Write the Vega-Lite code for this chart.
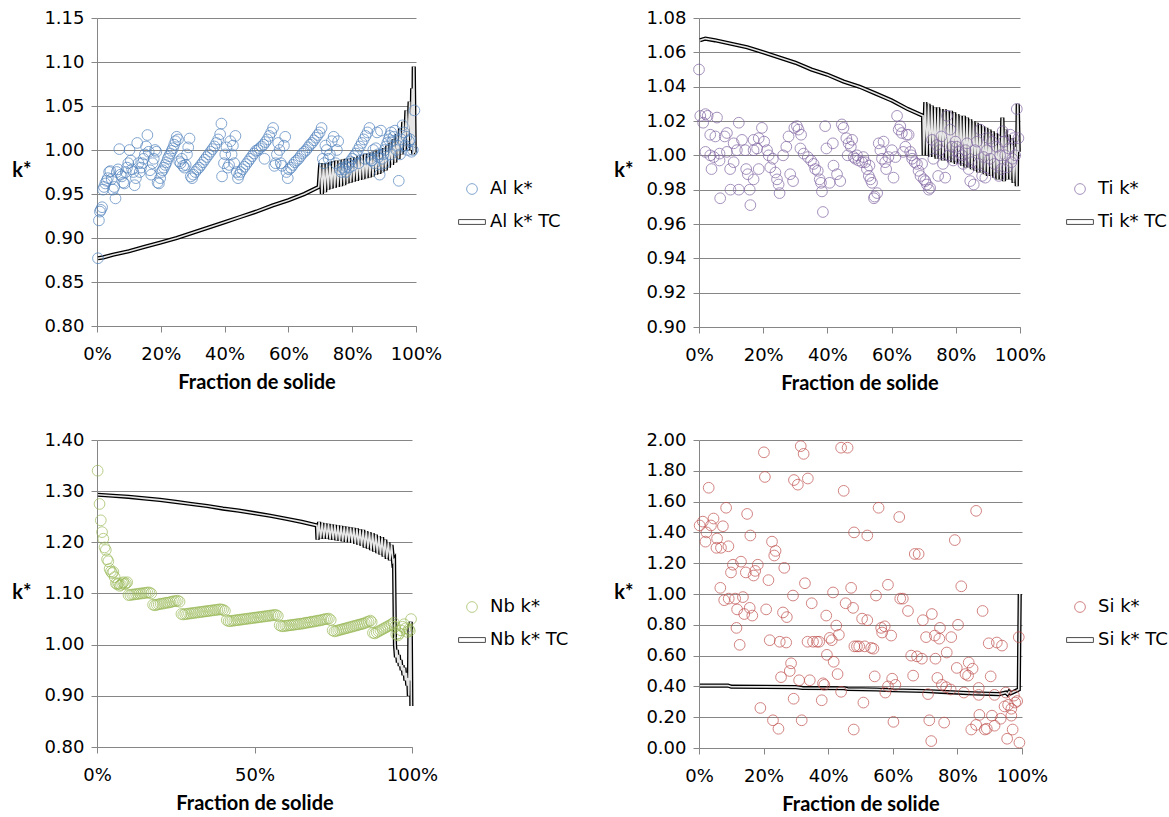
{
"$schema": "https://vega.github.io/schema/vega-lite/v6.json",
"background": "white",
"padding": {"left": 11, "top": 9, "right": 5, "bottom": 5},
"spacing": 38,
"config": {
  "font": "Lato",
  "view": {"stroke": null},
  "axis": {"labelFont": "DejaVu Sans", "labelFontSize": 18, "labelColor": "#000000", "titleFont": "Lato", "titleFontSize": 20, "titleFontWeight": "bold", "titleColor": "#000000", "domainColor": "#868686", "tickColor": "#868686", "gridColor": "#868686", "gridWidth": 1, "domainWidth": 1, "tickWidth": 1},
  "axisX": {"grid": false, "tickSize": 6, "labelPadding": 13, "titlePadding": 9, "labelFlush": false, "format": ".0%"},
  "axisY": {"grid": true, "tickSize": 6, "labelPadding": 7, "titleAngle": 0, "titleAlign": "right", "titleBaseline": "middle", "titleX": -66, "titleY": 152, "format": ".2f"},
  "legend": {"orient": "none", "title": null, "labelFont": "DejaVu Sans", "labelFontSize": 18, "labelColor": "#000000", "symbolSize": 115, "symbolStrokeWidth": 1, "rowPadding": 15, "labelOffset": 9, "padding": 0}
},
"datasets": {
"al_pts": [
{"x":0.003,"y":0.877},{"x":0.006,"y":0.92},{"x":0.009,"y":0.93},{"x":0.012,"y":0.932},{"x":0.016,"y":0.935},{"x":0.019,"y":0.955},{"x":0.022,"y":0.958},{"x":0.026,"y":0.962},{"x":0.03,"y":0.965},{"x":0.034,"y":0.968},{"x":0.038,"y":0.975},{"x":0.042,"y":0.976},{"x":0.046,"y":0.967},{"x":0.05,"y":0.955},{"x":0.054,"y":0.958},{"x":0.058,"y":0.945},{"x":0.062,"y":0.975},{"x":0.066,"y":0.978},{"x":0.07,"y":1.001},{"x":0.074,"y":0.972},{"x":0.078,"y":0.97},{"x":0.082,"y":0.963},{"x":0.086,"y":0.962},{"x":0.09,"y":0.975},{"x":0.094,"y":0.98},{"x":0.098,"y":0.985},{"x":0.102,"y":1.0},{"x":0.106,"y":0.988},{"x":0.11,"y":0.978},{"x":0.114,"y":0.975},{"x":0.118,"y":0.96},{"x":0.122,"y":0.968},{"x":0.126,"y":1.008},{"x":0.13,"y":0.985},{"x":0.134,"y":0.975},{"x":0.138,"y":0.98},{"x":0.142,"y":0.985},{"x":0.146,"y":0.99},{"x":0.15,"y":0.995},{"x":0.154,"y":1.004},{"x":0.158,"y":1.017},{"x":0.162,"y":0.998},{"x":0.166,"y":0.977},{"x":0.17,"y":0.972},{"x":0.174,"y":0.985},{"x":0.178,"y":0.99},{"x":0.182,"y":1.0},{"x":0.186,"y":0.998},{"x":0.19,"y":0.963},{"x":0.194,"y":0.962},{"x":0.198,"y":0.968},
{"x":0.202,"y":0.975},{"x":0.206,"y":0.977},{"x":0.21,"y":0.98},{"x":0.214,"y":0.983},{"x":0.218,"y":0.986},{"x":0.222,"y":0.99},{"x":0.226,"y":0.993},{"x":0.23,"y":0.996},{"x":0.234,"y":0.999},{"x":0.238,"y":1.002},{"x":0.242,"y":1.006},{"x":0.246,"y":1.01},{"x":0.25,"y":1.015},{"x":0.254,"y":1.012},
{"x":0.258,"y":0.987},{"x":0.262,"y":0.985},{"x":0.266,"y":0.99},{"x":0.27,"y":0.982},{"x":0.274,"y":0.98},{"x":0.278,"y":0.983},{"x":0.282,"y":0.995},{"x":0.286,"y":1.003},{"x":0.29,"y":1.013},{"x":0.294,"y":0.97},{"x":0.298,"y":0.968},
{"x":0.302,"y":0.972},{"x":0.308,"y":0.975},{"x":0.314,"y":0.978},{"x":0.32,"y":0.98},{"x":0.326,"y":0.983},{"x":0.332,"y":0.986},{"x":0.338,"y":0.989},{"x":0.344,"y":0.992},{"x":0.35,"y":0.995},{"x":0.356,"y":0.998},{"x":0.362,"y":1.001},{"x":0.368,"y":1.004},{"x":0.374,"y":1.008},{"x":0.38,"y":1.012},{"x":0.386,"y":1.018},{"x":0.39,"y":1.03},{"x":0.392,"y":0.97},
{"x":0.398,"y":0.985},{"x":0.402,"y":0.995},{"x":0.406,"y":1.003},{"x":0.41,"y":0.98},{"x":0.414,"y":0.983},{"x":0.418,"y":1.01},{"x":0.422,"y":0.995},{"x":0.426,"y":1.005},{"x":0.43,"y":0.985},{"x":0.434,"y":1.016},{"x":0.438,"y":0.975},{"x":0.442,"y":0.968},{"x":0.446,"y":0.972},
{"x":0.45,"y":0.975},{"x":0.456,"y":0.978},{"x":0.462,"y":0.981},{"x":0.468,"y":0.984},{"x":0.474,"y":0.987},{"x":0.48,"y":0.99},{"x":0.486,"y":0.993},{"x":0.492,"y":0.996},{"x":0.498,"y":0.999},{"x":0.504,"y":1.0},{"x":0.51,"y":1.002},{"x":0.516,"y":1.004},{"x":0.522,"y":1.006},{"x":0.528,"y":1.009},{"x":0.534,"y":1.012},{"x":0.54,"y":1.016},{"x":0.546,"y":1.02},{"x":0.552,"y":1.025},{"x":0.525,"y":0.99},
{"x":0.556,"y":0.982},{"x":0.56,"y":0.985},{"x":0.564,"y":0.995},{"x":0.568,"y":1.008},{"x":0.572,"y":1.0},{"x":0.576,"y":0.985},{"x":0.58,"y":0.982},{"x":0.586,"y":1.005},{"x":0.59,"y":1.015},{"x":0.594,"y":0.975},{"x":0.598,"y":0.968},{"x":0.602,"y":0.978},
{"x":0.608,"y":0.98},{"x":0.614,"y":0.983},{"x":0.62,"y":0.986},{"x":0.626,"y":0.988},{"x":0.632,"y":0.99},{"x":0.638,"y":0.993},{"x":0.644,"y":0.996},{"x":0.65,"y":0.998},{"x":0.656,"y":1.0},{"x":0.662,"y":1.003},{"x":0.668,"y":1.006},{"x":0.674,"y":1.008},{"x":0.68,"y":1.011},{"x":0.686,"y":1.014},{"x":0.692,"y":1.017},{"x":0.698,"y":1.02},{"x":0.704,"y":1.025},
{"x":0.708,"y":0.99},{"x":0.712,"y":0.985},{"x":0.716,"y":1.005},{"x":0.72,"y":1.0},{"x":0.726,"y":0.99},{"x":0.73,"y":0.995},{"x":0.736,"y":1.01},{"x":0.742,"y":1.015},{"x":0.748,"y":0.985},{"x":0.752,"y":1.0},{"x":0.756,"y":1.01},{"x":0.762,"y":0.978},{"x":0.766,"y":0.975},{"x":0.77,"y":0.98},
{"x":0.776,"y":0.978},{"x":0.782,"y":0.981},{"x":0.788,"y":0.984},{"x":0.794,"y":0.987},{"x":0.8,"y":0.99},{"x":0.806,"y":0.993},{"x":0.812,"y":0.996},{"x":0.818,"y":1.0},{"x":0.824,"y":1.004},{"x":0.83,"y":1.008},{"x":0.836,"y":1.012},{"x":0.842,"y":1.016},{"x":0.848,"y":1.02},{"x":0.854,"y":1.025},
{"x":0.78,"y":0.975},{"x":0.79,"y":0.98},{"x":0.80,"y":0.982},{"x":0.82,"y":0.985},{"x":0.84,"y":0.99},{"x":0.86,"y":0.988},{"x":0.88,"y":0.995},{"x":0.9,"y":0.985},{"x":0.92,"y":0.995},
{"x":0.858,"y":0.99},{"x":0.862,"y":0.988},{"x":0.866,"y":1.0},{"x":0.87,"y":0.985},{"x":0.874,"y":1.002},{"x":0.878,"y":1.02},{"x":0.882,"y":0.992},{"x":0.886,"y":0.972},{"x":0.89,"y":1.022},{"x":0.894,"y":0.99},{"x":0.898,"y":0.995},{"x":0.902,"y":1.0},{"x":0.906,"y":1.004},{"x":0.91,"y":1.008},{"x":0.914,"y":1.012},{"x":0.918,"y":1.016},{"x":0.922,"y":1.02},{"x":0.926,"y":1.01},{"x":0.93,"y":1.015},{"x":0.934,"y":1.022},{"x":0.938,"y":1.0},{"x":0.942,"y":1.005},{"x":0.946,"y":0.965},{"x":0.95,"y":0.995},{"x":0.954,"y":1.012},{"x":0.958,"y":1.028},{"x":0.962,"y":1.02},{"x":0.966,"y":1.005},{"x":0.97,"y":1.015},{"x":0.974,"y":1.0},{"x":0.978,"y":1.01},{"x":0.982,"y":1.012},{"x":0.986,"y":0.998},{"x":0.99,"y":1.0},{"x":0.995,"y":1.045}
],
"al_tc": [
{"x":0.003,"y":0.877},{"x":0.02,"y":0.878},{"x":0.05,"y":0.881},{"x":0.1,"y":0.885},{"x":0.15,"y":0.89},{"x":0.2,"y":0.895},{"x":0.25,"y":0.9},{"x":0.3,"y":0.906},{"x":0.35,"y":0.912},{"x":0.4,"y":0.918},{"x":0.45,"y":0.924},{"x":0.5,"y":0.93},{"x":0.55,"y":0.937},{"x":0.6,"y":0.943},{"x":0.65,"y":0.95},{"x":0.695,"y":0.958},
{"x":0.7,"y":0.985},{"x":0.705,"y":0.95},{"x":0.71,"y":0.985},{"x":0.715,"y":0.952},{"x":0.72,"y":0.985},{"x":0.725,"y":0.955},{"x":0.73,"y":0.986},{"x":0.735,"y":0.956},{"x":0.74,"y":0.987},{"x":0.745,"y":0.957},{"x":0.75,"y":0.988},{"x":0.755,"y":0.958},{"x":0.76,"y":0.988},{"x":0.765,"y":0.959},{"x":0.77,"y":0.989},{"x":0.775,"y":0.96},{"x":0.78,"y":0.99},{"x":0.785,"y":0.962},{"x":0.79,"y":0.99},{"x":0.795,"y":0.963},{"x":0.8,"y":0.991},{"x":0.805,"y":0.964},{"x":0.81,"y":0.992},{"x":0.815,"y":0.965},{"x":0.82,"y":0.993},{"x":0.825,"y":0.966},{"x":0.83,"y":0.994},{"x":0.835,"y":0.967},{"x":0.84,"y":0.995},{"x":0.845,"y":0.968},{"x":0.85,"y":0.996},{"x":0.855,"y":0.969},{"x":0.86,"y":0.997},{"x":0.865,"y":0.97},{"x":0.87,"y":0.998},{"x":0.875,"y":0.972},{"x":0.88,"y":0.999},{"x":0.885,"y":0.973},{"x":0.89,"y":1.0},{"x":0.895,"y":0.975},{"x":0.9,"y":1.002},{"x":0.905,"y":0.977},{"x":0.91,"y":1.005},{"x":0.915,"y":0.98},{"x":0.92,"y":1.008},{"x":0.925,"y":0.983},{"x":0.93,"y":1.012},{"x":0.935,"y":0.986},{"x":0.94,"y":1.018},{"x":0.945,"y":0.99},{"x":0.95,"y":1.025},{"x":0.955,"y":0.995},{"x":0.96,"y":1.032},{"x":0.965,"y":1.0},{"x":0.97,"y":1.045},{"x":0.975,"y":1.005},{"x":0.98,"y":1.055},{"x":0.985,"y":1.0},{"x":0.988,"y":1.07},{"x":0.991,"y":0.995},{"x":0.993,"y":1.095},{"x":0.996,"y":0.997}
],
"ti_pts": [
{"x":0.0,"y":1.05},{"x":0.004,"y":1.023},{"x":0.02,"y":1.024},{"x":0.027,"y":1.023},{"x":0.013,"y":1.019},{"x":0.056,"y":1.022},{"x":0.035,"y":1.012},{"x":0.051,"y":1.011},{"x":0.087,"y":1.013},{"x":0.08,"y":1.011},{"x":0.124,"y":1.019},{"x":0.02,"y":1.002},{"x":0.035,"y":1.0},{"x":0.046,"y":0.999},{"x":0.064,"y":1.001},{"x":0.087,"y":1.002},{"x":0.108,"y":1.007},{"x":0.118,"y":1.003},{"x":0.039,"y":0.992},{"x":0.064,"y":0.997},{"x":0.097,"y":0.992},{"x":0.108,"y":0.996},{"x":0.098,"y":0.98},{"x":0.124,"y":0.98},{"x":0.158,"y":0.98},{"x":0.066,"y":0.975},{"x":0.16,"y":0.971},{"x":0.134,"y":1.009},{"x":0.17,"y":1.009},{"x":0.196,"y":1.016},{"x":0.186,"y":1.01},{"x":0.203,"y":1.008},{"x":0.181,"y":1.004},{"x":0.212,"y":1.003},{"x":0.217,"y":1.0},{"x":0.23,"y":0.998},{"x":0.144,"y":1.003},{"x":0.17,"y":1.003},{"x":0.147,"y":0.992},{"x":0.152,"y":0.989},{"x":0.17,"y":0.986},{"x":0.186,"y":0.992},{"x":0.222,"y":0.993},{"x":0.238,"y":0.99},{"x":0.243,"y":0.986},{"x":0.248,"y":0.983},{"x":0.251,"y":0.978},{"x":0.284,"y":0.989},{"x":0.293,"y":0.985},{"x":0.262,"y":1.0},{"x":0.272,"y":1.005},{"x":0.279,"y":1.011},{"x":0.297,"y":1.016},{"x":0.305,"y":1.017},{"x":0.31,"y":1.015},{"x":0.318,"y":1.012},{"x":0.316,"y":1.004},{"x":0.326,"y":1.001},{"x":0.339,"y":0.999},{"x":0.349,"y":0.997},{"x":0.357,"y":0.995},{"x":0.362,"y":0.992},{"x":0.37,"y":0.991},{"x":0.376,"y":0.986},{"x":0.38,"y":0.984},{"x":0.383,"y":0.979},{"x":0.386,"y":0.967},{"x":0.393,"y":1.017},{"x":0.397,"y":1.004},{"x":0.407,"y":0.984},{"x":0.417,"y":1.007},{"x":0.43,"y":0.989},{"x":0.419,"y":0.994},{"x":0.44,"y":0.985},{"x":0.445,"y":1.018},{"x":0.45,"y":1.016},{"x":0.459,"y":1.01},{"x":0.473,"y":1.005},{"x":0.463,"y":1.0},{"x":0.482,"y":0.999},{"x":0.466,"y":1.007},
{"x":0.477,"y":1.009},{"x":0.487,"y":0.998},{"x":0.497,"y":0.997},{"x":0.508,"y":0.996},{"x":0.518,"y":0.996},{"x":0.523,"y":0.992},{"x":0.529,"y":0.988},{"x":0.534,"y":0.986},{"x":0.539,"y":0.984},{"x":0.547,"y":0.976},{"x":0.56,"y":1.007},{"x":0.575,"y":1.008},{"x":0.565,"y":1.003},{"x":0.58,"y":0.996},{"x":0.583,"y":0.992},{"x":0.606,"y":0.987},{"x":0.601,"y":1.003},{"x":0.617,"y":1.023},{"x":0.627,"y":1.017},{"x":0.632,"y":1.013},{"x":0.653,"y":1.012},{"x":0.643,"y":1.005},{"x":0.658,"y":1.002},{"x":0.664,"y":0.998},{"x":0.679,"y":0.995},{"x":0.684,"y":0.991},{"x":0.69,"y":0.988},{"x":0.7,"y":0.986},{"x":0.71,"y":0.983},{"x":0.716,"y":0.98},{"x":0.745,"y":0.988},{"x":0.767,"y":0.987},{"x":0.726,"y":1.009},{"x":0.741,"y":1.006},{"x":0.755,"y":1.011},{"x":0.773,"y":1.023},{"x":0.783,"y":1.015},{"x":0.788,"y":1.005},{"x":0.799,"y":1.008},{"x":0.809,"y":1.002},{"x":0.819,"y":1.0},{"x":0.835,"y":1.007},{"x":0.85,"y":0.996},{"x":0.856,"y":0.983},{"x":0.866,"y":1.008},{"x":0.876,"y":1.015},{"x":0.887,"y":0.999},{"x":0.897,"y":1.003},{"x":0.902,"y":1.01},{"x":0.913,"y":1.008},{"x":0.928,"y":1.005},{"x":0.934,"y":0.988},{"x":0.946,"y":1.014},{"x":0.954,"y":1.0},{"x":0.965,"y":1.004},{"x":0.973,"y":0.996},{"x":0.98,"y":1.01},{"x":0.99,"y":1.027},{"x":0.84,"y":0.992},{"x":0.882,"y":0.988},
{"x":0.72,"y":0.981},{"x":0.73,"y":0.998},{"x":0.75,"y":1.003},{"x":0.76,"y":0.995},{"x":0.778,"y":1.0},{"x":0.792,"y":0.997},{"x":0.803,"y":1.005},{"x":0.813,"y":0.998},{"x":0.823,"y":0.995},{"x":0.83,"y":1.003},{"x":0.845,"y":0.985},{"x":0.86,"y":1.003},{"x":0.871,"y":0.995},{"x":0.892,"y":0.987},{"x":0.907,"y":0.998},{"x":0.92,"y":0.995},{"x":0.938,"y":1.0},{"x":0.942,"y":0.992},{"x":0.95,"y":1.008},{"x":0.96,"y":0.993},{"x":0.97,"y":1.012},{"x":0.985,"y":1.0},{"x":0.995,"y":1.01},{"x":0.976,"y":0.998},
{"x":0.492,"y":1.0},{"x":0.512,"y":0.999},{"x":0.531,"y":0.994},{"x":0.545,"y":0.975},{"x":0.555,"y":0.978},{"x":0.57,"y":0.998},{"x":0.59,"y":0.999},{"x":0.612,"y":0.999},{"x":0.622,"y":1.015},{"x":0.636,"y":1.002},{"x":0.647,"y":1.012},{"x":0.662,"y":1.0},{"x":0.672,"y":0.996},{"x":0.695,"y":0.995},{"x":0.705,"y":0.985}
],
"ti_tc": [
{"x":0.003,"y":1.067},{"x":0.02,"y":1.068},{"x":0.05,"y":1.067},{"x":0.1,"y":1.065},{"x":0.15,"y":1.063},{"x":0.2,"y":1.06},{"x":0.25,"y":1.057},{"x":0.3,"y":1.054},{"x":0.35,"y":1.05},{"x":0.4,"y":1.047},{"x":0.45,"y":1.043},{"x":0.5,"y":1.04},{"x":0.55,"y":1.036},{"x":0.6,"y":1.032},{"x":0.65,"y":1.027},{"x":0.698,"y":1.023},
{"x":0.7,"y":1.0},{"x":0.705,"y":1.031},{"x":0.71,"y":1.0},{"x":0.715,"y":1.03},{"x":0.72,"y":0.999},{"x":0.725,"y":1.029},{"x":0.73,"y":0.999},{"x":0.735,"y":1.028},{"x":0.74,"y":0.998},{"x":0.745,"y":1.028},{"x":0.75,"y":0.998},{"x":0.755,"y":1.027},{"x":0.76,"y":0.997},{"x":0.765,"y":1.027},{"x":0.77,"y":0.997},{"x":0.775,"y":1.026},{"x":0.78,"y":0.996},{"x":0.785,"y":1.026},{"x":0.79,"y":0.996},{"x":0.795,"y":1.025},{"x":0.8,"y":0.995},{"x":0.805,"y":1.024},{"x":0.81,"y":0.995},{"x":0.815,"y":1.023},{"x":0.82,"y":0.994},{"x":0.825,"y":1.023},{"x":0.83,"y":0.993},{"x":0.835,"y":1.022},{"x":0.84,"y":0.993},{"x":0.845,"y":1.021},{"x":0.85,"y":0.992},{"x":0.855,"y":1.02},{"x":0.86,"y":0.991},{"x":0.865,"y":1.019},{"x":0.87,"y":0.99},{"x":0.875,"y":1.018},{"x":0.88,"y":0.99},{"x":0.885,"y":1.017},{"x":0.89,"y":0.989},{"x":0.895,"y":1.016},{"x":0.9,"y":0.988},{"x":0.905,"y":1.015},{"x":0.91,"y":0.988},{"x":0.915,"y":1.014},{"x":0.92,"y":0.987},{"x":0.925,"y":1.013},{"x":0.93,"y":0.986},{"x":0.935,"y":1.012},{"x":0.94,"y":0.986},{"x":0.945,"y":1.022},{"x":0.95,"y":0.985},{"x":0.955,"y":1.015},{"x":0.96,"y":0.986},{"x":0.965,"y":1.012},{"x":0.97,"y":0.986},{"x":0.975,"y":1.01},{"x":0.98,"y":0.984},{"x":0.985,"y":1.005},{"x":0.99,"y":0.982},{"x":0.993,"y":1.03},{"x":0.996,"y":1.002}
],
"nb_pts": [
{"x":0.002,"y":1.34},{"x":0.008,"y":1.275},{"x":0.012,"y":1.243},{"x":0.016,"y":1.22},{"x":0.02,"y":1.207},{"x":0.024,"y":1.19},{"x":0.028,"y":1.185},{"x":0.032,"y":1.167},{"x":0.036,"y":1.163},{"x":0.04,"y":1.148},{"x":0.044,"y":1.143},{"x":0.048,"y":1.14},{"x":0.052,"y":1.142},{"x":0.056,"y":1.132},{"x":0.06,"y":1.12},{"x":0.064,"y":1.118},{"x":0.068,"y":1.12},{"x":0.072,"y":1.115},{"x":0.076,"y":1.117},{"x":0.08,"y":1.12},{"x":0.084,"y":1.122},{"x":0.088,"y":1.118},{"x":0.092,"y":1.12},{"x":0.096,"y":1.122},
{"x":0.1,"y":1.097},{"x":0.106,"y":1.097},{"x":0.112,"y":1.098},{"x":0.118,"y":1.098},{"x":0.124,"y":1.099},{"x":0.13,"y":1.099},{"x":0.136,"y":1.1},{"x":0.142,"y":1.1},{"x":0.148,"y":1.101},{"x":0.154,"y":1.101},{"x":0.16,"y":1.102},{"x":0.166,"y":1.102},{"x":0.172,"y":1.1},
{"x":0.178,"y":1.078},{"x":0.184,"y":1.077},{"x":0.19,"y":1.078},{"x":0.196,"y":1.079},{"x":0.202,"y":1.08},{"x":0.208,"y":1.08},{"x":0.214,"y":1.081},{"x":0.22,"y":1.082},{"x":0.226,"y":1.082},{"x":0.232,"y":1.083},{"x":0.238,"y":1.084},{"x":0.244,"y":1.085},{"x":0.25,"y":1.085},{"x":0.256,"y":1.086},{"x":0.262,"y":1.084},
{"x":0.268,"y":1.06},{"x":0.274,"y":1.059},{"x":0.28,"y":1.06},{"x":0.286,"y":1.06},{"x":0.292,"y":1.061},{"x":0.298,"y":1.061},{"x":0.304,"y":1.062},{"x":0.31,"y":1.062},{"x":0.316,"y":1.063},{"x":0.322,"y":1.063},{"x":0.328,"y":1.064},{"x":0.334,"y":1.064},{"x":0.34,"y":1.065},{"x":0.346,"y":1.065},{"x":0.352,"y":1.066},{"x":0.358,"y":1.066},{"x":0.364,"y":1.067},{"x":0.37,"y":1.067},{"x":0.376,"y":1.068},{"x":0.382,"y":1.068},{"x":0.388,"y":1.069},{"x":0.394,"y":1.069},{"x":0.4,"y":1.068},{"x":0.406,"y":1.066},
{"x":0.412,"y":1.048},{"x":0.418,"y":1.046},{"x":0.424,"y":1.046},{"x":0.43,"y":1.047},{"x":0.436,"y":1.047},{"x":0.442,"y":1.048},{"x":0.448,"y":1.048},{"x":0.454,"y":1.049},{"x":0.46,"y":1.049},{"x":0.466,"y":1.05},{"x":0.472,"y":1.05},{"x":0.478,"y":1.051},{"x":0.484,"y":1.051},{"x":0.49,"y":1.052},{"x":0.496,"y":1.052},{"x":0.502,"y":1.053},{"x":0.508,"y":1.053},{"x":0.514,"y":1.054},{"x":0.52,"y":1.054},{"x":0.526,"y":1.055},{"x":0.532,"y":1.055},{"x":0.538,"y":1.056},{"x":0.544,"y":1.056},{"x":0.55,"y":1.057},{"x":0.556,"y":1.057},{"x":0.562,"y":1.058},{"x":0.568,"y":1.058},{"x":0.574,"y":1.056},
{"x":0.58,"y":1.038},{"x":0.586,"y":1.036},{"x":0.592,"y":1.036},{"x":0.598,"y":1.037},{"x":0.604,"y":1.037},{"x":0.61,"y":1.038},{"x":0.616,"y":1.038},{"x":0.622,"y":1.039},{"x":0.628,"y":1.039},{"x":0.634,"y":1.04},{"x":0.64,"y":1.04},{"x":0.646,"y":1.041},{"x":0.652,"y":1.041},{"x":0.658,"y":1.042},{"x":0.664,"y":1.043},{"x":0.67,"y":1.043},{"x":0.676,"y":1.044},{"x":0.682,"y":1.045},{"x":0.688,"y":1.045},{"x":0.694,"y":1.046},{"x":0.7,"y":1.047},{"x":0.706,"y":1.047},{"x":0.712,"y":1.048},{"x":0.718,"y":1.049},{"x":0.724,"y":1.05},{"x":0.73,"y":1.05},{"x":0.736,"y":1.051},{"x":0.742,"y":1.048},
{"x":0.748,"y":1.028},{"x":0.754,"y":1.026},{"x":0.76,"y":1.027},{"x":0.766,"y":1.028},{"x":0.772,"y":1.029},{"x":0.778,"y":1.03},{"x":0.784,"y":1.031},{"x":0.79,"y":1.032},{"x":0.796,"y":1.033},{"x":0.802,"y":1.034},{"x":0.808,"y":1.035},{"x":0.814,"y":1.036},{"x":0.82,"y":1.037},{"x":0.826,"y":1.038},{"x":0.832,"y":1.039},{"x":0.838,"y":1.04},{"x":0.844,"y":1.041},{"x":0.85,"y":1.042},{"x":0.856,"y":1.044},{"x":0.862,"y":1.045},{"x":0.868,"y":1.047},{"x":0.872,"y":1.044},
{"x":0.876,"y":1.023},{"x":0.882,"y":1.022},{"x":0.888,"y":1.024},{"x":0.894,"y":1.026},{"x":0.9,"y":1.028},{"x":0.906,"y":1.03},{"x":0.912,"y":1.032},{"x":0.918,"y":1.034},{"x":0.924,"y":1.036},{"x":0.93,"y":1.038},{"x":0.936,"y":1.04},{"x":0.942,"y":1.043},{"x":0.946,"y":1.035},
{"x":0.95,"y":1.02},{"x":0.955,"y":1.018},{"x":0.96,"y":1.022},{"x":0.965,"y":1.028},{"x":0.97,"y":1.035},{"x":0.975,"y":1.04},{"x":0.98,"y":1.032},{"x":0.985,"y":1.025},{"x":0.99,"y":1.03},{"x":0.993,"y":1.027},{"x":0.997,"y":1.05}
],
"nb_tc": [
{"x":0.003,"y":1.293},{"x":0.05,"y":1.291},{"x":0.1,"y":1.289},{"x":0.15,"y":1.286},{"x":0.2,"y":1.283},{"x":0.25,"y":1.279},{"x":0.3,"y":1.275},{"x":0.35,"y":1.271},{"x":0.4,"y":1.266},{"x":0.45,"y":1.262},{"x":0.5,"y":1.257},{"x":0.55,"y":1.252},{"x":0.6,"y":1.246},{"x":0.65,"y":1.24},{"x":0.698,"y":1.233},
{"x":0.7,"y":1.205},{"x":0.705,"y":1.24},{"x":0.71,"y":1.207},{"x":0.715,"y":1.238},{"x":0.72,"y":1.208},{"x":0.725,"y":1.237},{"x":0.73,"y":1.207},{"x":0.735,"y":1.236},{"x":0.74,"y":1.206},{"x":0.745,"y":1.235},{"x":0.75,"y":1.205},{"x":0.755,"y":1.234},{"x":0.76,"y":1.204},{"x":0.765,"y":1.233},{"x":0.77,"y":1.203},{"x":0.775,"y":1.232},{"x":0.78,"y":1.202},{"x":0.785,"y":1.231},{"x":0.79,"y":1.201},{"x":0.795,"y":1.23},{"x":0.8,"y":1.2},{"x":0.805,"y":1.229},{"x":0.81,"y":1.199},{"x":0.815,"y":1.228},{"x":0.82,"y":1.197},{"x":0.825,"y":1.227},{"x":0.83,"y":1.195},{"x":0.835,"y":1.225},{"x":0.84,"y":1.193},{"x":0.845,"y":1.224},{"x":0.85,"y":1.19},{"x":0.855,"y":1.222},{"x":0.86,"y":1.188},{"x":0.865,"y":1.22},{"x":0.87,"y":1.185},{"x":0.875,"y":1.218},{"x":0.88,"y":1.182},{"x":0.885,"y":1.215},{"x":0.89,"y":1.179},{"x":0.895,"y":1.212},{"x":0.9,"y":1.176},{"x":0.905,"y":1.21},{"x":0.91,"y":1.172},{"x":0.915,"y":1.205},{"x":0.92,"y":1.168},{"x":0.925,"y":1.2},{"x":0.93,"y":1.165},{"x":0.935,"y":1.195},{"x":0.94,"y":1.162},{"x":0.943,"y":1.165},{"x":0.946,"y":1.0},{"x":0.949,"y":0.975},{"x":0.952,"y":0.99},{"x":0.955,"y":0.965},{"x":0.958,"y":0.98},{"x":0.961,"y":0.958},{"x":0.964,"y":0.97},{"x":0.967,"y":0.95},{"x":0.97,"y":0.96},{"x":0.973,"y":0.94},{"x":0.976,"y":0.955},{"x":0.979,"y":0.93},{"x":0.982,"y":0.945},{"x":0.985,"y":0.92},{"x":0.988,"y":0.935},{"x":0.99,"y":0.9},{"x":0.992,"y":1.04},{"x":0.994,"y":0.93},{"x":0.996,"y":1.045},{"x":0.998,"y":0.88}
],
"si_pts": [
{"x":0.002,"y":1.445},{"x":0.012,"y":1.47},{"x":0.045,"y":1.49},{"x":0.037,"y":1.445},{"x":0.023,"y":1.4},{"x":0.074,"y":1.44},{"x":0.056,"y":1.36},{"x":0.02,"y":1.34},{"x":0.054,"y":1.3},{"x":0.068,"y":1.3},{"x":0.091,"y":1.31},{"x":0.159,"y":1.38},{"x":0.226,"y":1.34},{"x":0.237,"y":1.28},{"x":0.233,"y":1.25},{"x":0.105,"y":1.19},{"x":0.13,"y":1.21},{"x":0.099,"y":1.14},{"x":0.145,"y":1.14},{"x":0.169,"y":1.12},{"x":0.182,"y":1.19},{"x":0.174,"y":1.15},{"x":0.215,"y":1.09},{"x":0.264,"y":1.17},{"x":0.066,"y":1.04},{"x":0.328,"y":1.07},{"x":0.078,"y":0.96},{"x":0.092,"y":0.97},{"x":0.112,"y":0.97},{"x":0.136,"y":0.98},{"x":0.118,"y":0.9},{"x":0.14,"y":0.87},{"x":0.157,"y":0.91},{"x":0.165,"y":0.86},{"x":0.208,"y":0.9},{"x":0.291,"y":0.99},{"x":0.349,"y":0.94},{"x":0.415,"y":1.01},{"x":0.471,"y":1.04},{"x":0.454,"y":0.94},{"x":0.477,"y":0.91},{"x":0.26,"y":0.88},{"x":0.272,"y":0.85},{"x":0.116,"y":0.78},{"x":0.394,"y":0.86},{"x":0.425,"y":0.795},{"x":0.433,"y":0.735},{"x":0.126,"y":0.67},{"x":0.219,"y":0.7},{"x":0.25,"y":0.69},{"x":0.27,"y":0.685},{"x":0.336,"y":0.69},{"x":0.353,"y":0.69},{"x":0.365,"y":0.69},{"x":0.372,"y":0.69},{"x":0.405,"y":0.715},{"x":0.411,"y":0.7},{"x":0.396,"y":0.605},{"x":0.417,"y":0.56},{"x":0.285,"y":0.55},{"x":0.281,"y":0.5},{"x":0.254,"y":0.46},{"x":0.429,"y":0.48},{"x":0.31,"y":0.44},{"x":0.343,"y":0.44},{"x":0.384,"y":0.42},{"x":0.388,"y":0.41},{"x":0.44,"y":0.365},{"x":0.293,"y":0.32},{"x":0.38,"y":0.31},{"x":0.19,"y":0.26},{"x":0.229,"y":0.18},{"x":0.318,"y":0.18},{"x":0.246,"y":0.125},{"x":0.481,"y":0.66},{"x":0.489,"y":0.66},
{"x":0.201,"y":1.92},{"x":0.315,"y":1.96},{"x":0.324,"y":1.91},{"x":0.44,"y":1.95},{"x":0.46,"y":1.95},{"x":0.03,"y":1.69},{"x":0.204,"y":1.76},{"x":0.294,"y":1.74},{"x":0.306,"y":1.71},{"x":0.337,"y":1.75},{"x":0.448,"y":1.67},{"x":0.084,"y":1.56},{"x":0.149,"y":1.52},{"x":0.48,"y":1.4},{"x":0.556,"y":1.56},{"x":0.62,"y":1.5},{"x":0.858,"y":1.54},{"x":0.521,"y":1.38},{"x":0.792,"y":1.35},{"x":0.668,"y":1.26},{"x":0.68,"y":1.26},{"x":0.585,"y":1.06},{"x":0.812,"y":1.05},{"x":0.548,"y":0.99},{"x":0.623,"y":0.97},{"x":0.631,"y":0.97},{"x":0.647,"y":0.89},{"x":0.721,"y":0.87},{"x":0.693,"y":0.83},{"x":0.505,"y":0.84},{"x":0.521,"y":0.83},{"x":0.878,"y":0.89},{"x":0.802,"y":0.8},{"x":0.746,"y":0.78},{"x":0.564,"y":0.78},{"x":0.575,"y":0.79},{"x":0.567,"y":0.75},{"x":0.595,"y":0.73},{"x":0.703,"y":0.72},{"x":0.73,"y":0.73},{"x":0.744,"y":0.71},{"x":0.781,"y":0.72},{"x":0.767,"y":0.62},{"x":0.496,"y":0.66},{"x":0.513,"y":0.66},{"x":0.533,"y":0.65},{"x":0.54,"y":0.645},{"x":0.657,"y":0.6},{"x":0.675,"y":0.595},{"x":0.69,"y":0.58},{"x":0.732,"y":0.58},{"x":0.897,"y":0.68},{"x":0.922,"y":0.685},{"x":0.938,"y":0.665},{"x":0.99,"y":0.72},{"x":0.798,"y":0.52},{"x":0.835,"y":0.555},{"x":0.847,"y":0.515},{"x":0.825,"y":0.48},{"x":0.833,"y":0.47},{"x":0.903,"y":0.465},{"x":0.544,"y":0.465},{"x":0.598,"y":0.45},{"x":0.663,"y":0.47},{"x":0.738,"y":0.455},{"x":0.585,"y":0.4},{"x":0.608,"y":0.41},{"x":0.577,"y":0.36},{"x":0.752,"y":0.41},{"x":0.765,"y":0.395},{"x":0.779,"y":0.38},{"x":0.709,"y":0.35},{"x":0.82,"y":0.36},{"x":0.866,"y":0.345},{"x":0.915,"y":0.345},{"x":0.95,"y":0.36},{"x":0.975,"y":0.34},{"x":0.866,"y":0.39},{"x":0.509,"y":0.295},{"x":0.602,"y":0.17},{"x":0.713,"y":0.18},{"x":0.759,"y":0.165},{"x":0.479,"y":0.12},{"x":0.719,"y":0.045},{"x":0.868,"y":0.215},{"x":0.907,"y":0.21},{"x":0.934,"y":0.19},{"x":0.967,"y":0.21},{"x":0.946,"y":0.27},{"x":0.957,"y":0.28},{"x":0.979,"y":0.295},{"x":0.985,"y":0.305},{"x":0.843,"y":0.12},{"x":0.858,"y":0.15},{"x":0.885,"y":0.12},{"x":0.891,"y":0.125},{"x":0.915,"y":0.145},{"x":0.971,"y":0.12},{"x":0.954,"y":0.06},{"x":0.992,"y":0.035},{"x":0.967,"y":0.255}
],
"si_tc": [
{"x":0.003,"y":0.405},{"x":0.05,"y":0.405},{"x":0.09,"y":0.405},{"x":0.1,"y":0.398},{"x":0.2,"y":0.397},{"x":0.3,"y":0.395},{"x":0.32,"y":0.39},{"x":0.45,"y":0.388},{"x":0.46,"y":0.383},{"x":0.55,"y":0.38},{"x":0.6,"y":0.375},{"x":0.7,"y":0.37},{"x":0.75,"y":0.365},{"x":0.8,"y":0.36},{"x":0.85,"y":0.355},{"x":0.9,"y":0.352},{"x":0.93,"y":0.35},{"x":0.95,"y":0.36},{"x":0.955,"y":0.35},{"x":0.96,"y":0.365},{"x":0.965,"y":0.355},{"x":0.97,"y":0.36},{"x":0.98,"y":0.37},{"x":0.99,"y":0.38},{"x":0.993,"y":1.0}
]
},
"vconcat": [
{
"bounds": "flush",
"spacing": 283,
"resolve": {"scale": {"color": "independent", "shape": "independent", "x": "independent", "y": "independent"}, "legend": {"color": "independent", "shape": "independent"}},
"hconcat": [
{
"width": 319, "height": 308,
"encoding": {
  "x": {"field": "x", "type": "quantitative", "scale": {"domain": [0, 1], "nice": false}, "axis": {"title": "Fraction de solide", "values": [0, 0.2, 0.4, 0.6, 0.8, 1]}},
  "y": {"field": "y", "type": "quantitative", "scale": {"domain": [0.8, 1.15], "nice": false, "zero": false}, "axis": {"title": "k*", "values": [0.8, 0.85, 0.9, 0.95, 1.0, 1.05, 1.1, 1.15]}}
},
"layer": [
  {"data": {"name": "al_tc"}, "mark": {"type": "line", "color": "#000000", "strokeWidth": 4.2}, "encoding": {}},
  {"data": {"name": "al_tc"}, "mark": {"type": "line", "color": "#e6e6e6", "strokeWidth": 1.6}, "encoding": {}},
  {"data": {"name": "al_pts"}, "mark": {"type": "point", "filled": false, "size": 115, "strokeWidth": 1},
   "encoding": {
     "color": {"datum": "Al k*", "type": "nominal", "scale": {"domain": ["Al k*", "Al k* TC"], "range": ["#4F81BD", "#000000"]}, "legend": {"legendX": 366, "legendY": 162}},
     "shape": {"datum": "Al k*", "type": "nominal", "scale": {"domain": ["Al k*", "Al k* TC"], "range": ["circle", "M-2.5,-0.45L2.5,-0.45L2.5,0.45L-2.5,0.45Z"]}, "legend": {"legendX": 366, "legendY": 162}}
   }}
]
},
{
"width": 321, "height": 309,
"encoding": {
  "x": {"field": "x", "type": "quantitative", "scale": {"domain": [0, 1], "nice": false}, "axis": {"title": "Fraction de solide", "values": [0, 0.2, 0.4, 0.6, 0.8, 1]}},
  "y": {"field": "y", "type": "quantitative", "scale": {"domain": [0.9, 1.08], "nice": false, "zero": false}, "axis": {"title": "k*", "values": [0.9, 0.92, 0.94, 0.96, 0.98, 1.0, 1.02, 1.04, 1.06, 1.08]}}
},
"layer": [
  {"data": {"name": "ti_tc"}, "mark": {"type": "line", "color": "#000000", "strokeWidth": 4.2}, "encoding": {}},
  {"data": {"name": "ti_tc"}, "mark": {"type": "line", "color": "#e6e6e6", "strokeWidth": 1.6}, "encoding": {}},
  {"data": {"name": "ti_pts"}, "mark": {"type": "point", "filled": false, "size": 115, "strokeWidth": 1},
   "encoding": {
     "color": {"datum": "Ti k*", "type": "nominal", "scale": {"domain": ["Ti k*", "Ti k* TC"], "range": ["#8064A2", "#000000"]}, "legend": {"legendX": 372, "legendY": 162}},
     "shape": {"datum": "Ti k*", "type": "nominal", "scale": {"domain": ["Ti k*", "Ti k* TC"], "range": ["circle", "M-2.5,-0.45L2.5,-0.45L2.5,0.45L-2.5,0.45Z"]}, "legend": {"legendX": 372, "legendY": 162}}
   }}
]
}
]
},
{
"bounds": "flush",
"spacing": 287,
"resolve": {"scale": {"color": "independent", "shape": "independent", "x": "independent", "y": "independent"}, "legend": {"color": "independent", "shape": "independent"}},
"hconcat": [
{
"width": 315, "height": 307,
"encoding": {
  "x": {"field": "x", "type": "quantitative", "scale": {"domain": [0, 1], "nice": false}, "axis": {"title": "Fraction de solide", "values": [0, 0.5, 1]}},
  "y": {"field": "y", "type": "quantitative", "scale": {"domain": [0.8, 1.4], "nice": false, "zero": false}, "axis": {"title": "k*", "values": [0.8, 0.9, 1.0, 1.1, 1.2, 1.3, 1.4]}}
},
"layer": [
  {"data": {"name": "nb_tc"}, "mark": {"type": "line", "color": "#000000", "strokeWidth": 4.2}, "encoding": {}},
  {"data": {"name": "nb_tc"}, "mark": {"type": "line", "color": "#e6e6e6", "strokeWidth": 1.6}, "encoding": {}},
  {"data": {"name": "nb_pts"}, "mark": {"type": "point", "filled": false, "size": 115, "strokeWidth": 1},
   "encoding": {
     "color": {"datum": "Nb k*", "type": "nominal", "scale": {"domain": ["Nb k*", "Nb k* TC"], "range": ["#9BBB59", "#000000"]}, "legend": {"legendX": 366, "legendY": 158}},
     "shape": {"datum": "Nb k*", "type": "nominal", "scale": {"domain": ["Nb k*", "Nb k* TC"], "range": ["circle", "M-2.5,-0.45L2.5,-0.45L2.5,0.45L-2.5,0.45Z"]}, "legend": {"legendX": 366, "legendY": 158}}
   }}
]
},
{
"width": 323, "height": 308,
"encoding": {
  "x": {"field": "x", "type": "quantitative", "scale": {"domain": [0, 1], "nice": false}, "axis": {"title": "Fraction de solide", "values": [0, 0.2, 0.4, 0.6, 0.8, 1]}},
  "y": {"field": "y", "type": "quantitative", "scale": {"domain": [0, 2], "nice": false}, "axis": {"title": "k*", "values": [0, 0.2, 0.4, 0.6, 0.8, 1.0, 1.2, 1.4, 1.6, 1.8, 2.0]}}
},
"layer": [
  {"data": {"name": "si_tc"}, "mark": {"type": "line", "color": "#000000", "strokeWidth": 4.2}, "encoding": {}},
  {"data": {"name": "si_tc"}, "mark": {"type": "line", "color": "#e6e6e6", "strokeWidth": 1.6}, "encoding": {}},
  {"data": {"name": "si_pts"}, "mark": {"type": "point", "filled": false, "size": 115, "strokeWidth": 1},
   "encoding": {
     "color": {"datum": "Si k*", "type": "nominal", "scale": {"domain": ["Si k*", "Si k* TC"], "range": ["#C0504D", "#000000"]}, "legend": {"legendX": 372, "legendY": 158}},
     "shape": {"datum": "Si k*", "type": "nominal", "scale": {"domain": ["Si k*", "Si k* TC"], "range": ["circle", "M-2.5,-0.45L2.5,-0.45L2.5,0.45L-2.5,0.45Z"]}, "legend": {"legendX": 372, "legendY": 158}}
   }}
]
}
]
}
],
"resolve": {"scale": {"color": "independent", "shape": "independent", "x": "independent", "y": "independent"}, "legend": {"color": "independent", "shape": "independent"}}
}
